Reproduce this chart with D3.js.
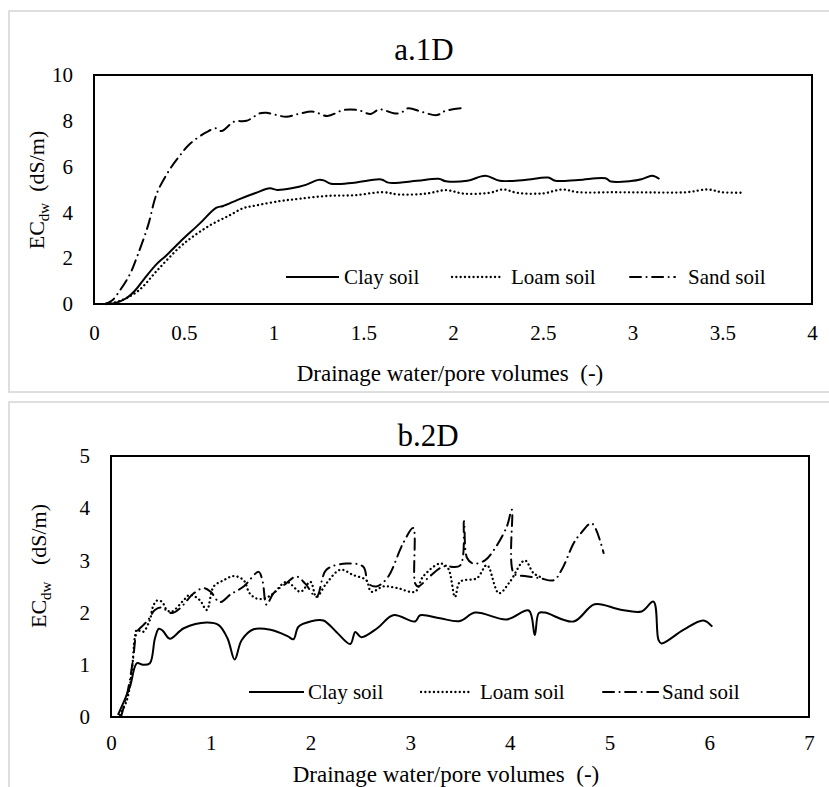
<!DOCTYPE html>
<html>
<head>
<meta charset="utf-8">
<script src="https://cdn.jsdelivr.net/npm/d3@7"></script>
<style>
  html, body { margin: 0; padding: 0; background: #fff; }
  svg { display: block; }
  svg text { white-space: pre; }
</style>
</head>
<body>
<svg id="chart" width="829" height="787"></svg>
<script>
// ---- 1D column experiment: EC of drainage water vs. pore volumes ----
const clay1D = [[0.07,0],[0.12,0.05],[0.18,0.25],[0.23,0.6],[0.28,1.1],[0.35,1.75],[0.4,2.1],[0.48,2.72],[0.59,3.52],[0.68,4.2],[0.72,4.28],[0.8,4.55],[0.9,4.85],[0.98,5.05],[1.02,4.98],[1.1,5.05],[1.18,5.2],[1.25,5.42],[1.28,5.4],[1.32,5.25],[1.45,5.3],[1.6,5.44],[1.64,5.3],[1.8,5.38],[1.92,5.47],[1.96,5.36],[2.08,5.38],[2.18,5.6],[2.26,5.38],[2.4,5.42],[2.53,5.52],[2.57,5.38],[2.7,5.42],[2.85,5.49],[2.88,5.35],[2.99,5.37],[3.05,5.45],[3.11,5.6],[3.15,5.46]];
const loam1D = [[0.07,0],[0.15,0.15],[0.25,0.6],[0.35,1.45],[0.48,2.5],[0.57,3.05],[0.66,3.5],[0.75,3.85],[0.83,4.18],[0.9,4.3],[1.04,4.5],[1.15,4.6],[1.3,4.72],[1.45,4.75],[1.61,4.88],[1.7,4.78],[1.85,4.82],[1.96,4.97],[2.06,4.82],[2.2,4.85],[2.28,5.0],[2.36,4.85],[2.5,4.83],[2.61,5.0],[2.7,4.88],[2.9,4.88],[3.1,4.87],[3.3,4.88],[3.42,5.0],[3.5,4.88],[3.62,4.86]];
const sand1D = [[0.06,0],[0.1,0.15],[0.145,0.6],[0.2,1.3],[0.24,2.07],[0.3,3.4],[0.35,4.83],[0.42,5.85],[0.48,6.5],[0.535,7.0],[0.63,7.52],[0.68,7.67],[0.71,7.55],[0.78,7.96],[0.85,8.0],[0.925,8.33],[0.96,8.35],[1.07,8.18],[1.14,8.3],[1.22,8.4],[1.3,8.21],[1.39,8.47],[1.47,8.47],[1.54,8.3],[1.59,8.5],[1.67,8.33],[1.71,8.35],[1.75,8.55],[1.83,8.38],[1.91,8.25],[1.96,8.44],[2.07,8.57]];

// ---- 2D box experiment ----
const clay2D = [[0.07,0.04],[0.13,0.3],[0.19,0.58],[0.26,1.03],[0.32,1.0],[0.39,1.03],[0.44,1.5],[0.48,1.69],[0.52,1.65],[0.59,1.5],[0.73,1.7],[0.96,1.81],[1.08,1.76],[1.17,1.5],[1.24,1.1],[1.31,1.47],[1.43,1.68],[1.6,1.67],[1.77,1.55],[1.83,1.49],[1.88,1.73],[2.0,1.83],[2.13,1.85],[2.26,1.63],[2.4,1.4],[2.45,1.63],[2.51,1.53],[2.67,1.7],[2.83,1.95],[3.05,1.83],[3.1,1.95],[3.3,1.89],[3.5,1.84],[3.65,2.0],[3.97,1.87],[4.19,2.04],[4.25,1.57],[4.29,1.99],[4.35,2.0],[4.64,1.83],[4.85,2.16],[5.1,2.06],[5.32,2.02],[5.44,2.21],[5.49,1.48],[5.52,1.41],[5.74,1.67],[5.94,1.85],[6.03,1.73]];
const loam2D = [[0.09,0.04],[0.16,0.33],[0.21,0.9],[0.24,1.54],[0.26,1.67],[0.32,1.63],[0.39,1.86],[0.42,2.11],[0.46,2.23],[0.51,2.21],[0.56,2.05],[0.61,2.02],[0.73,2.24],[0.79,2.34],[0.89,2.24],[0.96,2.05],[1.03,2.5],[1.13,2.62],[1.23,2.7],[1.33,2.62],[1.39,2.37],[1.46,2.27],[1.54,2.27],[1.63,2.37],[1.76,2.59],[1.9,2.4],[2.0,2.59],[2.06,2.3],[2.16,2.56],[2.3,2.82],[2.43,2.72],[2.56,2.62],[2.61,2.4],[2.73,2.5],[2.87,2.47],[3.05,2.4],[3.13,2.69],[3.3,2.94],[3.38,2.85],[3.45,2.3],[3.5,2.59],[3.67,2.66],[3.77,2.91],[3.89,2.37],[4.0,2.59],[4.15,3.0],[4.24,2.75],[4.34,2.66]];
const sand2D = [[0.1,0.0],[0.17,0.52],[0.22,1.09],[0.26,1.63],[0.29,1.7],[0.36,1.83],[0.44,2.05],[0.5,2.1],[0.61,1.99],[0.69,2.08],[0.83,2.37],[0.93,2.47],[1.0,2.4],[1.09,2.2],[1.2,2.35],[1.33,2.5],[1.48,2.78],[1.52,2.6],[1.56,2.15],[1.63,2.37],[1.75,2.55],[1.86,2.69],[1.95,2.55],[2.06,2.3],[2.16,2.82],[2.36,2.94],[2.53,2.88],[2.58,2.56],[2.66,2.5],[2.77,2.66],[2.93,3.33],[3.03,3.62],[3.05,2.56],[3.08,2.5],[3.2,2.7],[3.33,2.88],[3.5,2.9],[3.54,3.75],[3.57,3.05],[3.63,2.94],[3.75,3.0],[3.84,3.2],[3.97,3.65],[4.02,3.97],[4.04,2.75],[4.15,2.7],[4.3,2.66],[4.44,2.62],[4.52,2.82],[4.64,3.33],[4.7,3.49],[4.82,3.71],[4.94,3.14]];

// ---- axis ticks ----
const xTicks1D = [0, 0.5, 1, 1.5, 2, 2.5, 3, 3.5, 4];
const yTicks1D = [0, 2, 4, 6, 8, 10];
const xTicks2D = [0, 1, 2, 3, 4, 5, 6, 7];
const yTicks2D = [0, 1, 2, 3, 4, 5];

const seriesNames = ["Clay soil", "Loam soil", "Sand soil"];
const xTitle = "Drainage water/pore volumes  (-)";

const FONT = "Liberation Serif";

// line styles per soil
const styles = [
  { dash: null, width: 2, cap: "butt" },
  { dash: "0.1,4.2", width: 2.3, cap: "round" },
  { dash: "11,5.5,0.1,5.5", width: 2, cap: "round" }
];

const svg = d3.select("#chart");

function label(sel, size) {
  return sel.attr("font-family", FONT).attr("font-size", size).attr("fill", "#000");
}

function panel(cfg) {
  // light frame around each panel
  svg.append("rect")
    .attr("x", cfg.frame[0]).attr("y", cfg.frame[1])
    .attr("width", cfg.frame[2]).attr("height", cfg.frame[3])
    .attr("fill", "none").attr("stroke", "#d4d4d4").attr("stroke-width", 1.5);

  const x = d3.scaleLinear().domain([0, cfg.xMax]).range([cfg.left, cfg.right]);
  const y = d3.scaleLinear().domain([0, cfg.yMax]).range([cfg.bottom, cfg.top]);

  const g = svg.append("g");

  // x axis labels
  const gx = g.append("g")
    .attr("transform", `translate(0,${cfg.bottom})`)
    .call(d3.axisBottom(x).tickValues(cfg.xTicks).tickFormat(d3.format("")).tickSize(0).tickPadding(cfg.xPad));
  gx.select(".domain").remove();
  gx.attr("font-family", null).attr("font-size", null);
  label(gx.selectAll("text"), 21);

  // y axis labels
  const gy = g.append("g")
    .attr("transform", `translate(${cfg.left},0)`)
    .call(d3.axisLeft(y).tickValues(cfg.yTicks).tickFormat(d3.format("")).tickSize(0).tickPadding(21));
  gy.select(".domain").remove();
  gy.attr("font-family", null).attr("font-size", null);
  label(gy.selectAll("text"), 21);

  // series
  const line = d3.line()
    .x(d => x(d[0])).y(d => y(d[1]))
    .curve(d3.curveCatmullRom.alpha(0.5));

  cfg.series.forEach((s, i) => {
    const st = styles[i];
    g.append("path")
      .datum(s)
      .attr("d", line)
      .attr("fill", "none")
      .attr("stroke", "#000")
      .attr("stroke-width", st.width)
      .attr("stroke-linecap", st.cap)
      .attr("stroke-linejoin", "round")
      .attr("stroke-dasharray", st.dash);
  });

  // plot box
  g.append("rect")
    .attr("x", cfg.left).attr("y", cfg.top)
    .attr("width", cfg.right - cfg.left).attr("height", cfg.bottom - cfg.top)
    .attr("fill", "none").attr("stroke", "#000").attr("stroke-width", 2);

  // title
  label(g.append("text"), 31)
    .attr("x", cfg.titleX).attr("y", cfg.titleY)
    .attr("text-anchor", "middle")
    .text(cfg.title);

  // x title
  label(g.append("text"), 23)
    .attr("x", cfg.xTitleX).attr("y", cfg.xTitleY)
    .attr("text-anchor", "middle")
    .text(xTitle);

  // y title: EC with subscript dw
  const yt = label(g.append("text"), 22)
    .attr("transform", `translate(${cfg.yTitleX},${cfg.yTitleY}) rotate(-90)`)
    .attr("text-anchor", "middle");
  yt.append("tspan").text("EC");
  yt.append("tspan").attr("dy", 5).attr("font-size", 15).text("dw");
  yt.append("tspan").attr("dy", -5).text(cfg.yGap + "(dS/m)");

  // legend
  cfg.legend.forEach((l, i) => {
    const st = styles[i];
    g.append("line")
      .attr("x1", l[0]).attr("x2", l[1])
      .attr("y1", cfg.legendY - 7).attr("y2", cfg.legendY - 7)
      .attr("stroke", "#000")
      .attr("stroke-width", st.width)
      .attr("stroke-linecap", st.cap)
      .attr("stroke-dasharray", st.dash);
    label(g.append("text"), 21)
      .attr("x", l[2]).attr("y", cfg.legendY)
      .text(seriesNames[i]);
  });
}

panel({
  frame: [9, 11, 840, 381],
  left: 94, right: 812, top: 75, bottom: 304,
  xMax: 4, yMax: 10, xTicks: xTicks1D, yTicks: yTicks1D, xPad: 21,
  series: [clay1D, loam1D, sand1D],
  title: "a.1D", titleX: 424, titleY: 60,
  xTitleX: 450, xTitleY: 381,
  yTitleX: 44, yTitleY: 190, yGap: "  ",
  legendY: 284,
  legend: [[286, 339, 344], [452, 503, 511], [630, 675, 688]]
});

panel({
  frame: [9, 402, 840, 400],
  left: 111, right: 809, top: 456, bottom: 717,
  xMax: 7, yMax: 5, xTicks: xTicks2D, yTicks: yTicks2D, xPad: 18,
  series: [clay2D, loam2D, sand2D],
  title: "b.2D", titleX: 428, titleY: 446,
  xTitleX: 446, xTitleY: 782,
  yTitleX: 46, yTitleY: 566, yGap: "   ",
  legendY: 699,
  legend: [[249, 304, 308], [421, 471, 480], [603, 659, 662]]
});
</script>
</body>
</html>
